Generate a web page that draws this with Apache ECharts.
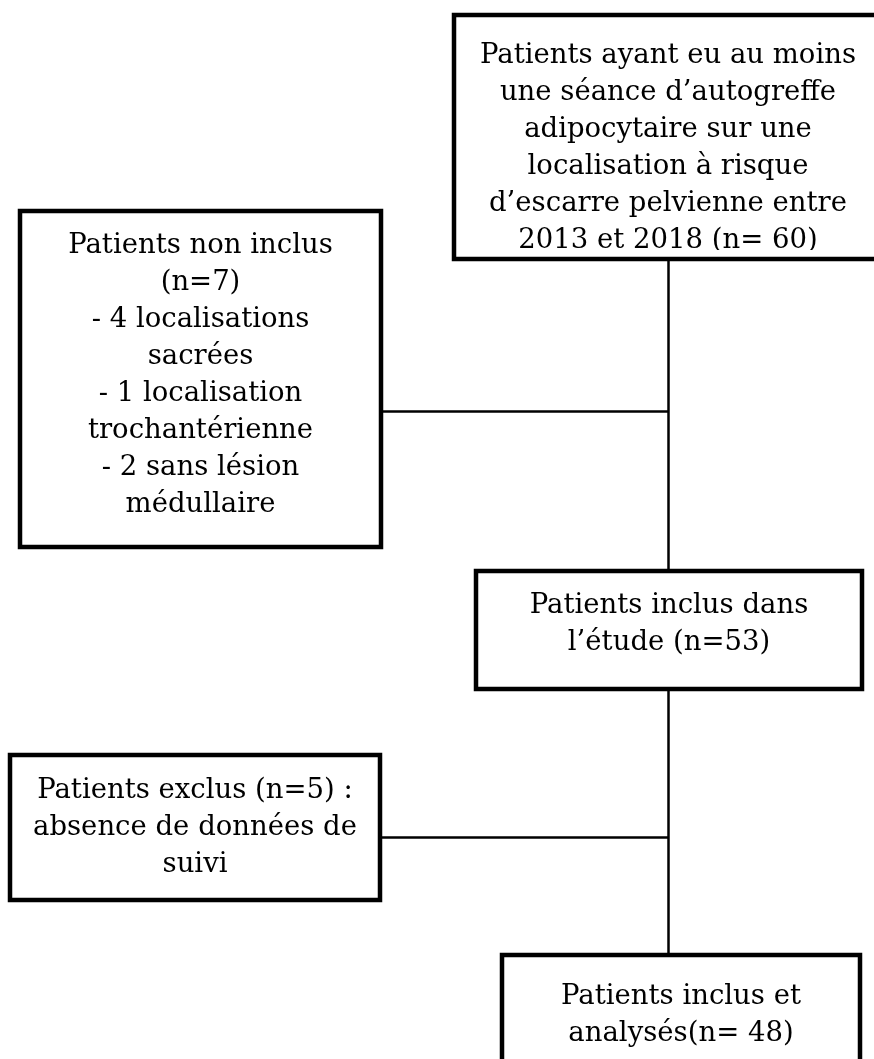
<!DOCTYPE html>
<html>
<head>
<meta charset="utf-8">
<script src="https://cdn.jsdelivr.net/npm/echarts@6/dist/echarts.min.js"></script>
<style>
  html, body { margin: 0; padding: 0; background: #fff; }
  #chart { width: 874px; height: 1059px; }
</style>
</head>
<body>
<div id="chart"></div>
<script>
// flowchart boxes (text lines per box)
const boxLines = [
  ['Patients ayant eu au moins', 'une séance d\u2019autogreffe', 'adipocytaire sur une', 'localisation à risque', 'd\u2019escarre pelvienne entre', '2013 et 2018 (n= 60)'],
  ['Patients non inclus', '(n=7)', '- 4 localisations', 'sacrées', '- 1 localisation', 'trochantérienne', '- 2 sans lésion', 'médullaire'],
  ['Patients inclus dans', 'l\u2019étude (n=53)'],
  ['Patients exclus (n=5) :', 'absence de données de', 'suivi'],
  ['Patients inclus et', 'analysés(n= 48)']
]
// box extents in page units (x right, y down)
const boxX0 = [454, 20, 476, 10, 502]
const boxY0 = [15, 211, 571, 755, 955]
const boxX1 = [882, 381, 862, 380, 860]
const boxY1 = [259, 547, 689, 900, 1075]
const firstLineY = [56, 245.5, 605.5, 790.5, 997]

// connectors
const linkFrom = [[668, 259], [381, 411], [668, 689], [380, 837]]
const linkTo = [[668, 571], [668, 411], [668, 955], [668, 837]]

const LINE_H = 37
const FONT = '27.5px "DejaVu Serif", serif'

const chart = echarts.init(document.getElementById('chart'), null, { renderer: 'canvas' })

const boxData = boxLines.map((_, i) => [boxX0[i], boxY0[i], boxX1[i], boxY1[i]])

chart.setOption({
  animation: false,
  backgroundColor: '#fff',
  grid: { left: 0, right: 0, top: 0, bottom: 0 },
  xAxis: { type: 'value', min: 0, max: 874, show: false },
  yAxis: { type: 'value', min: 0, max: 1059, inverse: true, show: false },
  series: [
    {
      type: 'lines',
      coordinateSystem: 'cartesian2d',
      z: 1,
      lineStyle: { color: '#000', width: 2.5, opacity: 1 },
      data: linkFrom.map((p, i) => ({ coords: [p, linkTo[i]] }))
    },
    {
      type: 'custom',
      z: 2,
      data: boxData,
      renderItem: (params, api) => {
        const i = params.dataIndex
        const p0 = api.coord([api.value(0), api.value(1)])
        const p1 = api.coord([api.value(2), api.value(3)])
        const w = p1[0] - p0[0]
        const h = p1[1] - p0[1]
        const ty = api.coord([0, firstLineY[i]])[1]
        return {
          type: 'group',
          children: [
            {
              type: 'rect',
              shape: { x: p0[0], y: p0[1], width: w, height: h },
              style: { fill: '#fff', stroke: '#000', lineWidth: 4.5 }
            },
            {
              // text is cut by the box edge, as in the source figure
              type: 'group',
              clipPath: { type: 'rect', shape: { x: p0[0], y: p0[1], width: w, height: h - 9 } },
              children: [{
                type: 'text',
                x: (p0[0] + p1[0]) / 2,
                y: ty - LINE_H / 2,
                style: {
                  text: boxLines[i].join('\n'),
                  font: FONT,
                  fill: '#000',
                  align: 'center',
                  verticalAlign: 'top',
                  lineHeight: LINE_H
                }
              }]
            }
          ]
        }
      }
    }
  ]
})

window.addEventListener('resize', () => chart.resize())
</script>
</body>
</html>
